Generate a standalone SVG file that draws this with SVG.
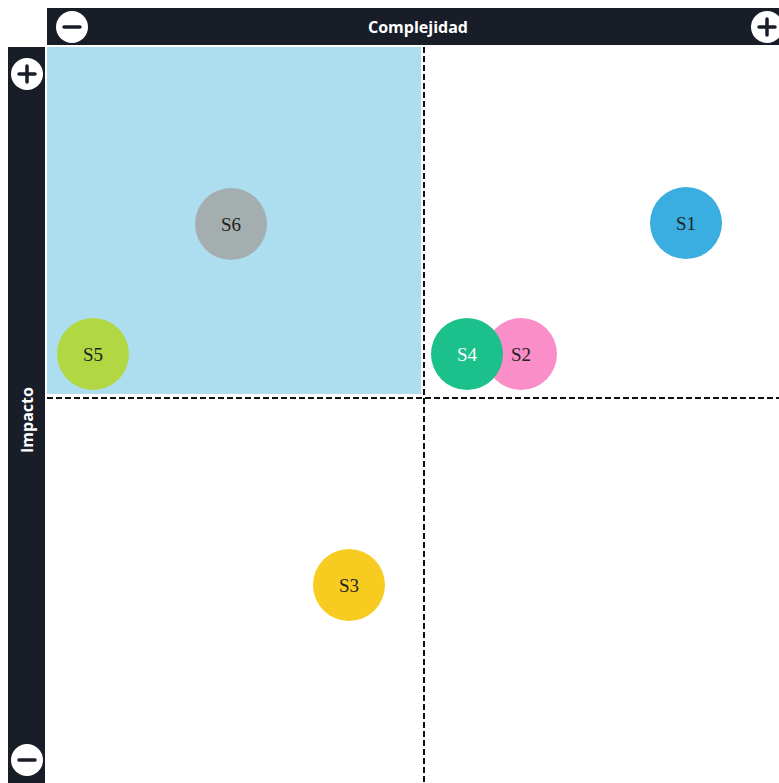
<svg xmlns="http://www.w3.org/2000/svg" width="779" height="783" viewBox="0 0 779 783">
<style>
.bar{fill:#181d28}
.btn{fill:#ffffff}
.sym{stroke:#181d28;stroke-width:3.5;stroke-linecap:round}
.axis{font-family:"Open Sans","Liberation Sans",sans-serif;font-weight:bold;font-size:16px;fill:#ffffff}
.dash{stroke:#111;stroke-width:2;stroke-dasharray:6,3;fill:none}
.lbl{font-family:"Liberation Serif","Times New Roman",serif;font-size:19px;text-anchor:middle;fill:#222}
</style>
<rect width="779" height="783" fill="#ffffff"/>
<g id="quadrant-highlight"><rect x="47" y="47" width="374" height="347" fill="#acdef0"/></g>
<g id="top-axis">
<rect class="bar" x="47" y="8" width="732" height="37"/>
<circle class="btn" cx="72" cy="27" r="16"/>
<line class="sym" x1="64" y1="27" x2="80" y2="27"/>
<circle class="btn" cx="767" cy="27" r="16"/>
<line class="sym" x1="759" y1="27" x2="775" y2="27"/>
<line class="sym" x1="767" y1="19" x2="767" y2="35"/>
<text class="axis" x="418" y="33" text-anchor="middle">Complejidad</text>
</g>
<g id="left-axis">
<rect class="bar" x="8" y="47" width="37" height="736"/>
<circle class="btn" cx="27" cy="74" r="16"/>
<line class="sym" x1="19" y1="74" x2="35" y2="74"/>
<line class="sym" x1="27" y1="66" x2="27" y2="82"/>
<circle class="btn" cx="27" cy="760" r="16"/>
<line class="sym" x1="19" y1="760" x2="35" y2="760"/>
<text class="axis" transform="translate(33,420) rotate(-90)" text-anchor="middle">Impacto</text>
</g>
<g id="connectors">
<line class="dash" x1="424" y1="47" x2="424" y2="783"/>
<line class="dash" x1="47" y1="398" x2="779" y2="398"/>
</g>
<g id="S1"><circle cx="686" cy="223" r="36" fill="#3aaee0"/><text class="lbl" x="686" y="230">S1</text></g>
<g id="S6"><circle cx="231" cy="224" r="36" fill="#a4aeae"/><text class="lbl" x="231" y="231">S6</text></g>
<g id="S5"><circle cx="93" cy="354" r="36" fill="#b1d843"/><text class="lbl" x="93" y="361">S5</text></g>
<g id="S2"><circle cx="521" cy="354" r="36" fill="#f98ec9"/><text class="lbl" x="521" y="361">S2</text></g>
<g id="S4"><circle cx="467" cy="354" r="36" fill="#1cc08a"/><text class="lbl" x="467" y="361" style="fill:#ffffff">S4</text></g>
<g id="S3"><circle cx="349" cy="585" r="36" fill="#f7cb1f"/><text class="lbl" x="349" y="592">S3</text></g>
</svg>
